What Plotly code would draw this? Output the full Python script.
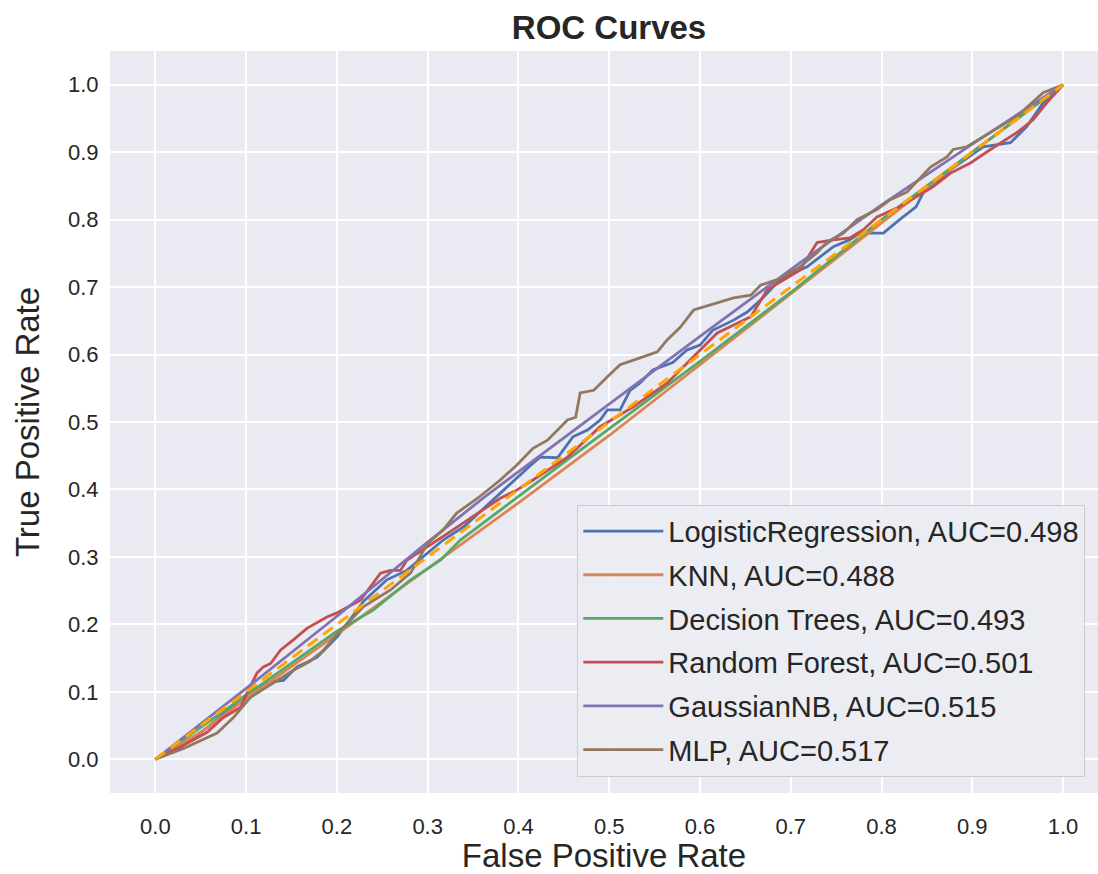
import plotly.graph_objects as go

# ---- data ----
lr_fpr = [0, 0.03, 0.06, 0.09, 0.11, 0.123, 0.141, 0.156, 0.178, 0.2, 0.23, 0.255, 0.277, 0.299, 0.317,
          0.34, 0.36, 0.38, 0.398, 0.416, 0.424, 0.443, 0.46, 0.476, 0.49, 0.498, 0.512, 0.523, 0.534,
          0.548, 0.57, 0.586, 0.6, 0.614, 0.637, 0.652, 0.667, 0.688, 0.703, 0.718, 0.747, 0.765, 0.776,
          0.802, 0.82, 0.838, 0.846, 0.861, 0.876, 0.912, 0.942, 0.96, 0.978, 1.0]
lr_tpr = [0, 0.02, 0.05, 0.085, 0.105, 0.114, 0.117, 0.137, 0.151, 0.181, 0.235, 0.266, 0.280, 0.305, 0.325,
          0.345, 0.37, 0.395, 0.418, 0.439, 0.448, 0.447, 0.478, 0.488, 0.503, 0.518, 0.518, 0.547, 0.558,
          0.577, 0.588, 0.607, 0.614, 0.636, 0.651, 0.663, 0.681, 0.711, 0.721, 0.730, 0.760, 0.770, 0.780,
          0.780, 0.800, 0.819, 0.840, 0.855, 0.874, 0.908, 0.914, 0.938, 0.973, 1.0]

knn_fpr = [0, 0.05, 0.1, 0.2, 0.29, 0.336, 0.4, 0.5, 0.6, 0.7, 0.8, 0.9, 1]
knn_tpr = [0, 0.04, 0.09, 0.185, 0.273, 0.318, 0.38, 0.48, 0.585, 0.69, 0.795, 0.9, 1]

dt_fpr = [0, 0.1, 0.2, 0.24, 0.28, 0.314, 0.336, 0.45, 0.6, 0.7, 0.8, 0.9, 1]
dt_tpr = [0, 0.095, 0.19, 0.221, 0.265, 0.295, 0.325, 0.44, 0.59, 0.692, 0.8, 0.9, 1]

rf_fpr = [0, 0.03, 0.057, 0.075, 0.094, 0.101, 0.112, 0.119, 0.127, 0.138, 0.152, 0.167, 0.189, 0.2,
          0.226, 0.248, 0.259, 0.27, 0.277, 0.299, 0.322, 0.35, 0.38, 0.398, 0.416, 0.454, 0.49, 0.526,
          0.564, 0.593, 0.619, 0.656, 0.674, 0.71, 0.729, 0.747, 0.765, 0.78, 0.795, 0.82, 0.857, 0.876,
          0.898, 0.92, 0.949, 0.967, 0.982, 1]
rf_tpr = [0, 0.02, 0.040, 0.062, 0.077, 0.098, 0.128, 0.137, 0.142, 0.162, 0.177, 0.194, 0.211, 0.217,
          0.236, 0.276, 0.280, 0.28, 0.295, 0.315, 0.335, 0.36, 0.387, 0.399, 0.414, 0.448, 0.493, 0.522,
          0.558, 0.597, 0.632, 0.656, 0.696, 0.725, 0.766, 0.770, 0.773, 0.785, 0.804, 0.819, 0.849, 0.869,
          0.884, 0.904, 0.929, 0.948, 0.973, 1]

gnb_fpr = [0, 0.1, 0.2, 0.3, 0.361, 0.5, 0.6, 0.71, 0.8, 0.9, 1]
gnb_tpr = [0, 0.105, 0.212, 0.322, 0.387, 0.527, 0.627, 0.736, 0.822, 0.912, 1]

mlp_fpr = [0, 0.031, 0.068, 0.086, 0.105, 0.123, 0.152, 0.17, 0.184, 0.2, 0.229, 0.259, 0.281, 0.3,
           0.317, 0.332, 0.355, 0.38, 0.398, 0.416, 0.432, 0.454, 0.463, 0.468, 0.483, 0.498, 0.512,
           0.534, 0.553, 0.564, 0.578, 0.593, 0.612, 0.637, 0.656, 0.667, 0.685, 0.710, 0.729, 0.740,
           0.758, 0.773, 0.795, 0.809, 0.828, 0.843, 0.854, 0.872, 0.879, 0.894, 0.912, 0.949, 0.978, 1]
mlp_tpr = [0, 0.016, 0.039, 0.062, 0.092, 0.107, 0.132, 0.145, 0.16, 0.185, 0.226, 0.251, 0.276, 0.320,
           0.340, 0.365, 0.387, 0.414, 0.436, 0.461, 0.473, 0.503, 0.507, 0.543, 0.547, 0.567, 0.585,
           0.595, 0.604, 0.622, 0.640, 0.666, 0.674, 0.684, 0.688, 0.703, 0.711, 0.730, 0.751, 0.767,
           0.780, 0.800, 0.815, 0.829, 0.841, 0.862, 0.878, 0.893, 0.904, 0.908, 0.923, 0.953, 0.988, 1]

model_names = ["LogisticRegression", "KNN", "Decision Trees", "Random Forest", "GaussianNB", "MLP"]
auc_values = [0.498, 0.488, 0.493, 0.501, 0.515, 0.517]
tick_vals = [0.0, 0.1, 0.2, 0.3, 0.4, 0.5, 0.6, 0.7, 0.8, 0.9, 1.0]
tick_text = ["0.0", "0.1", "0.2", "0.3", "0.4", "0.5", "0.6", "0.7", "0.8", "0.9", "1.0"]
diag = [0, 1]

colors = ["#4C72B0", "#DD8452", "#55A868", "#C44E52", "#8172B3", "#937860"]
curves = [(lr_fpr, lr_tpr), (knn_fpr, knn_tpr), (dt_fpr, dt_tpr),
          (rf_fpr, rf_tpr), (gnb_fpr, gnb_tpr), (mlp_fpr, mlp_tpr)]

FONT = "Arial, 'Liberation Sans', sans-serif"
TXT = "#262626"

fig = go.Figure()
for i, ((fx, ty), name, auc, c) in enumerate(zip(curves, model_names, auc_values, colors)):
    fig.add_trace(go.Scatter(x=fx, y=ty, mode="lines", name=f"{name}, AUC={auc:.3f}",
                             legendgroup=f"g{i}",
                             line=dict(color=c, width=2.8)))
fig.add_trace(go.Scatter(x=diag, y=diag, mode="lines", showlegend=False,
                         line=dict(color="orange", width=3, dash="12px,7px")))

axis_common = dict(showgrid=True, gridcolor="white", gridwidth=1.6, zeroline=False,
                   showline=False, tickvals=tick_vals, ticktext=tick_text,
                   tickfont=dict(family=FONT, size=22, color=TXT),
                   ticks="outside", tickcolor="rgba(0,0,0,0)")

fig.update_layout(
    width=1098, height=874,
    margin=dict(l=110, r=0, t=51, b=81),
    paper_bgcolor="white", plot_bgcolor="#EAEAF2",
    title=dict(text="<b>ROC Curves</b>", x=609 / 1098, xref="container", xanchor="center",
               y=1 - 27 / 874, yref="container", yanchor="middle",
               font=dict(family=FONT, size=33, color=TXT)),
    xaxis=dict(range=[-0.05, 1.0385], ticklen=14,
               title=dict(text="False Positive Rate", standoff=4,
                          font=dict(family=FONT, size=33, color=TXT)),
               **axis_common),
    yaxis=dict(range=[-0.05, 1.05], ticklen=6,
               title=dict(text="True Positive Rate", standoff=18,
                          font=dict(family=FONT, size=33, color=TXT)),
               **axis_common),
    legend=dict(x=0.473, y=0.022, xanchor="left", yanchor="bottom",
                bgcolor="rgba(236,236,243,0.9)", bordercolor="#CCCCCC", borderwidth=1,
                font=dict(family=FONT, size=29, color=TXT), tracegroupgap=3,
                itemwidth=80),
    showlegend=True,
)

fig.write_html("out.html")
